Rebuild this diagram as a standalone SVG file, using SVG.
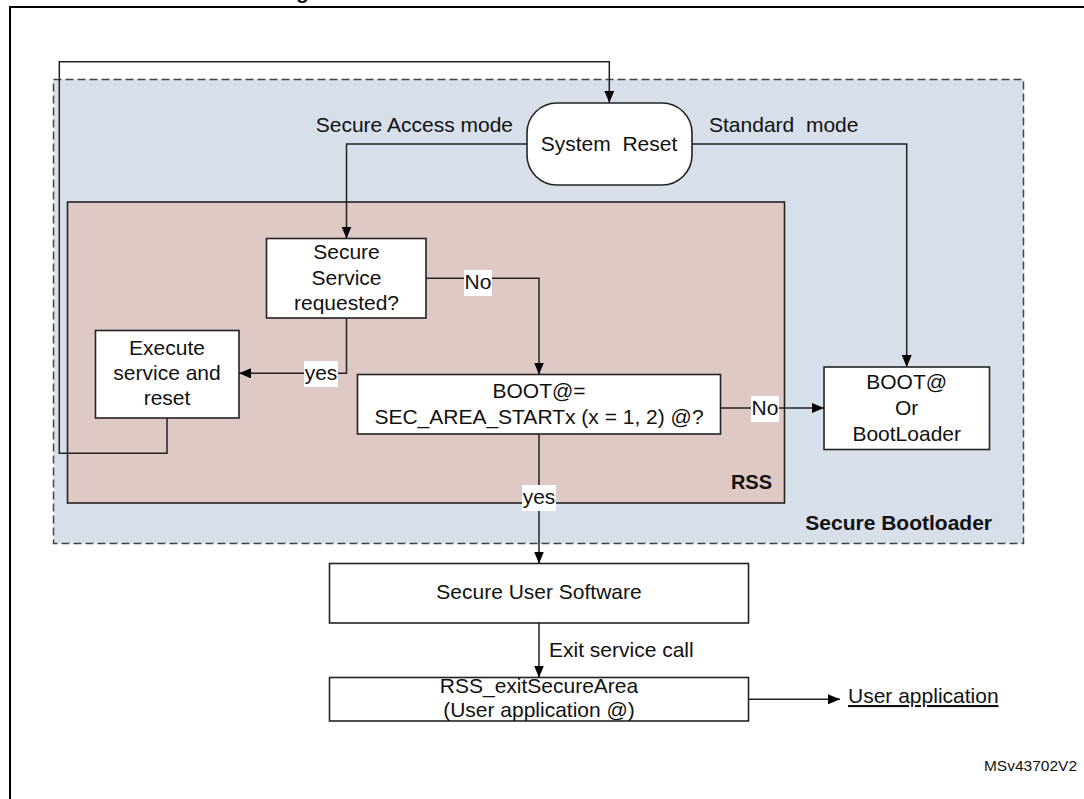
<svg xmlns="http://www.w3.org/2000/svg" width="1084" height="799" viewBox="0 0 1084 799">
<defs>
<marker id="arr" viewBox="0 0 12 10" refX="12" refY="5" markerWidth="12" markerHeight="10" markerUnits="userSpaceOnUse" orient="auto">
<path d="M0,0 L12,5 L0,10 Z" fill="#000"/>
</marker>
<style>
text{font-family:"Liberation Sans",Arial,sans-serif;font-size:21px;fill:#111}
.c{text-anchor:middle}
.e{text-anchor:end}
.b{font-weight:bold}
.box{fill:#fff;stroke:#222;stroke-width:1.6}
.ln{fill:none;stroke:#222;stroke-width:1.5}
.lbl{fill:#fff}
</style>
</defs>
<rect x="0" y="0" width="1084" height="799" fill="#fff"/>
<text class="b" x="296" y="-1">g</text>
<path d="M10,799 V7 H1084" fill="none" stroke="#000" stroke-width="2"/>

<g id="secure-bootloader">
<rect x="53.5" y="79.5" width="970" height="464" fill="#d6dfea" stroke="#444" stroke-width="1.5" stroke-dasharray="8,4"/>
<text class="b e" x="992" y="530">Secure Bootloader</text>
</g>
<g id="rss">
<rect x="67.5" y="202" width="717" height="301" fill="#dfc9c4" stroke="#222" stroke-width="1.6"/>
<text class="b e" x="772" y="489" style="font-size:20px">RSS</text>
</g>

<g id="system-reset">
<rect x="527" y="103" width="165" height="82" rx="30" ry="30" class="box"/>
<text class="c" x="609" y="151" style="white-space:pre">System  Reset</text>
</g>
<g id="secure-service">
<rect x="266.5" y="238.5" width="159.5" height="79.5" class="box"/>
<text class="c" x="346.5" y="259">Secure</text>
<text class="c" x="346.5" y="285">Service</text>
<text class="c" x="346.5" y="310">requested?</text>
</g>
<g id="execute">
<rect x="95.5" y="330.5" width="143.5" height="87.5" class="box"/>
<text class="c" x="167" y="355">Execute</text>
<text class="c" x="167" y="380">service and</text>
<text class="c" x="167" y="405">reset</text>
</g>
<g id="boot-check">
<rect x="357.5" y="374.5" width="363" height="59.5" class="box"/>
<text class="c" x="539" y="398">BOOT@=</text>
<text class="c" x="539" y="424">SEC_AREA_STARTx (x = 1, 2) @?</text>
</g>
<g id="boot-or-bootloader">
<rect x="824" y="367" width="165.5" height="82.5" class="box"/>
<text class="c" x="906.7" y="389">BOOT@</text>
<text class="c" x="906.7" y="415">Or</text>
<text class="c" x="906.7" y="441">BootLoader</text>
</g>
<g id="secure-user-software">
<rect x="329.5" y="563.5" width="419" height="59.5" class="box"/>
<text class="c" x="539" y="599">Secure User Software</text>
</g>
<g id="rss-exit">
<rect x="329.5" y="677.5" width="419" height="43.5" class="box"/>
<text class="c" x="539" y="693">RSS_exitSecureArea</text>
<text class="c" x="539" y="717">(User application @)</text>
</g>
<g id="user-application">
<text x="848" y="703" text-decoration="underline">User application</text>
</g>

<g id="connectors">
<path class="ln" d="M167,418 V453.3 H59.3 V61.7 H609.3 V102.7" marker-end="url(#arr)"/>
<path class="ln" d="M527,144 H346.5 V238.5" marker-end="url(#arr)"/>
<path class="ln" d="M692,144 H906.7 V367" marker-end="url(#arr)"/>
<path class="ln" d="M426,278.3 H539 V374.5" marker-end="url(#arr)"/>
<path class="ln" d="M346.5,318 V373.3 H239" marker-end="url(#arr)"/>
<path class="ln" d="M720.5,408 H824" marker-end="url(#arr)"/>
<path class="ln" d="M539,434 V563.5" marker-end="url(#arr)"/>
<path class="ln" d="M539,623 V677.5" marker-end="url(#arr)"/>
<path class="ln" d="M748.5,699.3 H840" marker-end="url(#arr)"/>
<rect class="lbl" x="464" y="270" width="28" height="26"/>
<text class="c" x="478" y="289">No</text>
<rect class="lbl" x="304" y="361" width="34" height="26"/>
<text class="c" x="321" y="380">yes</text>
<rect class="lbl" x="751" y="396" width="28" height="26"/>
<text class="c" x="765" y="415">No</text>
<rect class="lbl" x="522" y="485" width="34" height="26"/>
<text class="c" x="539" y="504">yes</text>
<text x="549" y="657">Exit service call</text>
<text class="e" x="513" y="132">Secure Access mode</text>
<text x="709" y="132" style="white-space:pre">Standard  mode</text>
</g>
<text class="e" x="1077" y="771" style="font-size:15.5px">MSv43702V2</text>
</svg>
